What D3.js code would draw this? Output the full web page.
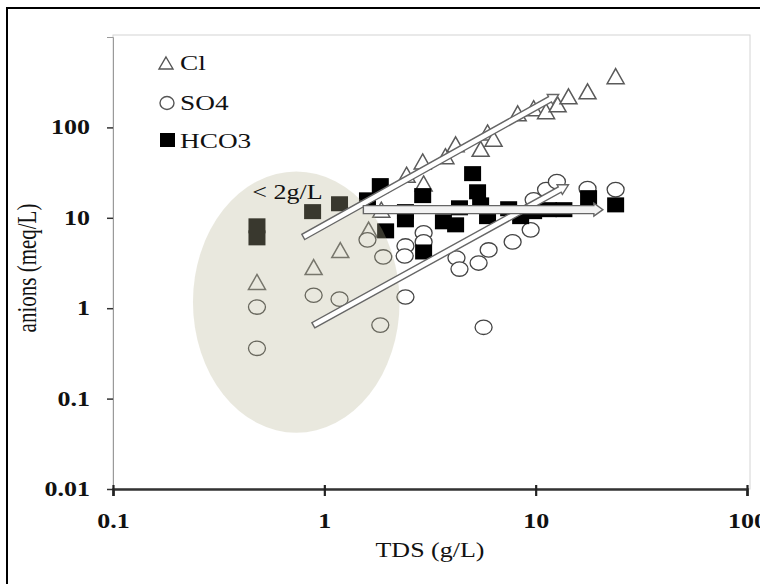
<!DOCTYPE html>
<html>
<head>
<meta charset="utf-8">
<script src="https://cdn.jsdelivr.net/npm/d3@7"></script>
<style>
  body { margin: 0; background: #fff; }
  svg { display: block; font-family: "Liberation Serif", "Times New Roman", serif; }
</style>
</head>
<body>
<div class="chart-container"></div>
<script>
// Axis ticks
const xTicks = [0.1, 1, 10, 100];
const yTicks = [0.01, 0.1, 1, 10, 100];
const seriesNames = ["Cl", "SO4", "HCO3"];

// Cl (triangles)
const clTDS = [0.48, 0.89, 1.19, 1.62, 1.86, 2.45, 2.95, 2.92, 3.74, 4.18, 5.49, 5.92, 6.32, 8.22, 9.78, 11.2, 12.7, 14.3, 17.6, 23.9];
const clVal = [1.95, 2.85, 4.4, 7.4, 12.3, 30, 24, 42, 48, 65, 58, 88, 75, 143, 163, 151, 180, 221, 251, 369];

// SO4 (circles)
const so4TDS = [0.48, 0.48, 0.89, 1.18, 1.84, 1.6, 1.9, 2.42, 2.42, 2.4, 2.95, 2.95, 4.22, 4.36, 5.37, 5.99, 7.78, 9.47, 9.78, 11.2, 12.6, 17.6, 23.9, 5.67];
const so4Val = [1.03, 0.36, 1.39, 1.26, 0.65, 5.7, 3.69, 1.33, 4.88, 3.78, 6.81, 5.41, 3.59, 2.71, 3.16, 4.41, 5.41, 7.36, 15.8, 20.5, 25.1, 21.0, 20.5, 0.615];

// HCO3 (squares)
const hco3TDS = [0.48, 0.48, 0.88, 1.18, 1.84, 1.6, 1.95, 2.42, 2.42, 2.92, 2.95, 3.66, 4.18, 4.36, 5.03, 5.31, 5.49, 5.92, 7.45, 8.49, 9.78, 11.5, 13.6, 17.8, 23.9];
const hco3Val = [8.15, 6.0, 11.7, 14.3, 22.7, 15.8, 7.17, 11.7, 9.5, 17.6, 4.19, 9.03, 8.36, 12.9, 30.8, 19.4, 13.9, 10.3, 12.6, 10.3, 11.7, 12.3, 12.3, 16.7, 13.9];

// trend arrows [TDS, anions]
const trendFrom = [[0.795, 6.15], [0.887, 0.647], [1.53, 12.3]];
const trendTo = [[12.85, 232], [14.3, 23.2], [20.8, 12.3]];

// low salinity zone
const zoneTDS = [0.239, 2.27];
const zoneVal = [0.042, 32.5];
const zoneLabel = "< 2g/L";
const zoneLabelAt = [0.456, 16.3];

function draw() {
    const width = 760;
    const height = 584;
    const sx = 1.3; // text in the source is stretched horizontally

    const x = d3.scaleLog().domain([0.1, 100]).range([113, 747]);
    const y = d3.scaleLog().domain([0.01, 1000]).range([489, 37]);

    const svg = d3.select('.chart-container').append("svg")
        .attr("width", width)
        .attr("height", height);

    // outer frame
    svg.append("rect")
        .attr("x", 7).attr("y", 8)
        .attr("width", 800).attr("height", 700)
        .attr("fill", "#fff")
        .attr("stroke", "#000")
        .attr("stroke-width", 2);

    // plot area
    svg.append("rect")
        .attr("x", 113).attr("y", 35)
        .attr("width", 637).attr("height", 454)
        .attr("fill", "#fff")
        .attr("stroke", "#d4d4d4");

    const stretch = (sel) => sel.each(function () {
        const t = d3.select(this);
        const tx = +t.attr("x") || 0;
        const ty = +t.attr("y") || 0;
        t.attr("x", 0).attr("y", 0)
            .attr("transform", `translate(${tx},${ty}) scale(${sx},1)`);
    });

    const tri = (cx, cy, w, h) =>
        `M${cx},${cy - h / 2}L${cx + w / 2},${cy + h / 2}L${cx - w / 2},${cy + h / 2}Z`;

    // Cl
    svg.append("g").selectAll("path")
        .data(d3.zip(clTDS, clVal))
        .join("path")
        .attr("d", d => tri(x(d[0]), y(d[1]), 17, 15))
        .attr("fill", "#fff")
        .attr("stroke", "#5a5a5a")
        .attr("stroke-width", 1.5);

    // SO4
    svg.append("g").selectAll("ellipse")
        .data(d3.zip(so4TDS, so4Val))
        .join("ellipse")
        .attr("cx", d => x(d[0]))
        .attr("cy", d => y(d[1]))
        .attr("rx", 8.5)
        .attr("ry", 7.2)
        .attr("fill", "#fff")
        .attr("stroke", "#444")
        .attr("stroke-width", 1.3);

    // HCO3
    svg.append("g").selectAll("rect")
        .data(d3.zip(hco3TDS, hco3Val))
        .join("rect")
        .attr("x", d => x(d[0]) - 8.5)
        .attr("y", d => y(d[1]) - 7.5)
        .attr("width", 17)
        .attr("height", 15)
        .attr("fill", "#000");

    // zone ellipse (semi transparent, over the markers)
    svg.append("ellipse")
        .attr("cx", (x(zoneTDS[0]) + x(zoneTDS[1])) / 2)
        .attr("cy", (y(zoneVal[0]) + y(zoneVal[1])) / 2)
        .attr("rx", (x(zoneTDS[1]) - x(zoneTDS[0])) / 2)
        .attr("ry", (y(zoneVal[0]) - y(zoneVal[1])) / 2)
        .attr("fill", "rgb(185,180,148)")
        .attr("opacity", 0.31);

    svg.append("text")
        .attr("x", x(zoneLabelAt[0]))
        .attr("y", y(zoneLabelAt[1]))
        .style("font-size", "20px")
        .attr("fill", "#111")
        .text(zoneLabel)
        .call(stretch);

    // trend arrows
    const arrow = (p0, p1, w, hw, hl) => {
        const x0 = x(p0[0]), y0 = y(p0[1]), x1 = x(p1[0]), y1 = y(p1[1]);
        const len = Math.hypot(x1 - x0, y1 - y0);
        const ux = (x1 - x0) / len, uy = (y1 - y0) / len;
        const nx = -uy, ny = ux;
        const bx = x1 - ux * hl, by = y1 - uy * hl;
        const pts = [
            [x0 + nx * w / 2, y0 + ny * w / 2],
            [bx + nx * w / 2, by + ny * w / 2],
            [bx + nx * hw / 2, by + ny * hw / 2],
            [x1, y1],
            [bx - nx * hw / 2, by - ny * hw / 2],
            [bx - nx * w / 2, by - ny * w / 2],
            [x0 - nx * w / 2, y0 - ny * w / 2]
        ];
        return "M" + pts.map(p => p.join(",")).join("L") + "Z";
    };

    svg.append("g").selectAll("path")
        .data(d3.zip(trendFrom, trendTo))
        .join("path")
        .attr("d", (d, i) => i === 2 ? arrow(d[0], d[1], 8, 13, 9) : arrow(d[0], d[1], 6, 11, 10))
        .attr("fill", (d, i) => i === 2 ? "#f2f2f2" : "#fff")
        .attr("stroke", "#666")
        .attr("stroke-width", 1.4);

    // legend
    const legend = svg.append("g").attr("id", "legend");
    legend.append("path")
        .attr("d", tri(166, 63, 14, 12))
        .attr("fill", "#fff")
        .attr("stroke", "#555")
        .attr("stroke-width", 1.4);
    legend.append("ellipse")
        .attr("cx", 167).attr("cy", 103)
        .attr("rx", 7).attr("ry", 6.5)
        .attr("fill", "#fff")
        .attr("stroke", "#555")
        .attr("stroke-width", 1.4);
    legend.append("rect")
        .attr("x", 160).attr("y", 133)
        .attr("width", 15).attr("height", 14)
        .attr("fill", "#000");
    legend.selectAll("text")
        .data(seriesNames)
        .join("text")
        .attr("x", 180)
        .attr("y", (d, i) => [70, 110, 148][i])
        .style("font-size", "21px")
        .attr("fill", "#111")
        .text(d => d)
        .call(stretch);

    // y axis
    const yAxis = svg.append("g")
        .attr("transform", "translate(113,0)")
        .call(d3.axisLeft(y).tickValues(yTicks).tickSize(6).tickPadding(17)
            .tickFormat(d => d3.format("~g")(d)));
    yAxis.select(".domain").attr("stroke", "#9a9a9a");
    yAxis.selectAll(".tick line").attr("stroke", "#333").attr("stroke-width", 1.5);
    yAxis.selectAll(".tick text")
        .style("font-size", "20px")
        .style("font-weight", "bold")
        .style("font-family", "Liberation Serif")
        .attr("fill", "#111")
        .call(stretch);

    // x axis
    const xAxis = svg.append("g")
        .attr("transform", "translate(0,489)")
        .call(d3.axisBottom(x).tickValues(xTicks).tickSize(7).tickPadding(18)
            .tickFormat(d => d3.format("~g")(d)));
    xAxis.select(".domain").attr("stroke", "#333").attr("stroke-width", 2.5);
    xAxis.selectAll(".tick line").attr("stroke", "#222").attr("stroke-width", 2.2).attr("y1", -4);
    xAxis.selectAll(".tick text")
        .style("font-size", "20px")
        .style("font-weight", "bold")
        .style("font-family", "Liberation Serif")
        .attr("fill", "#111")
        .call(stretch);

    // axis titles
    svg.append("text")
        .attr("text-anchor", "middle")
        .attr("transform", `translate(430,557) scale(${sx},1)`)
        .style("font-size", "20px")
        .attr("fill", "#111")
        .text("TDS (g/L)");

    svg.append("text")
        .attr("text-anchor", "middle")
        .attr("transform", `translate(36,268) scale(${sx},1) rotate(-90)`)
        .style("font-size", "21px")
        .attr("fill", "#111")
        .text("anions (meq/L)");
}

draw();
</script>
</body>
</html>
